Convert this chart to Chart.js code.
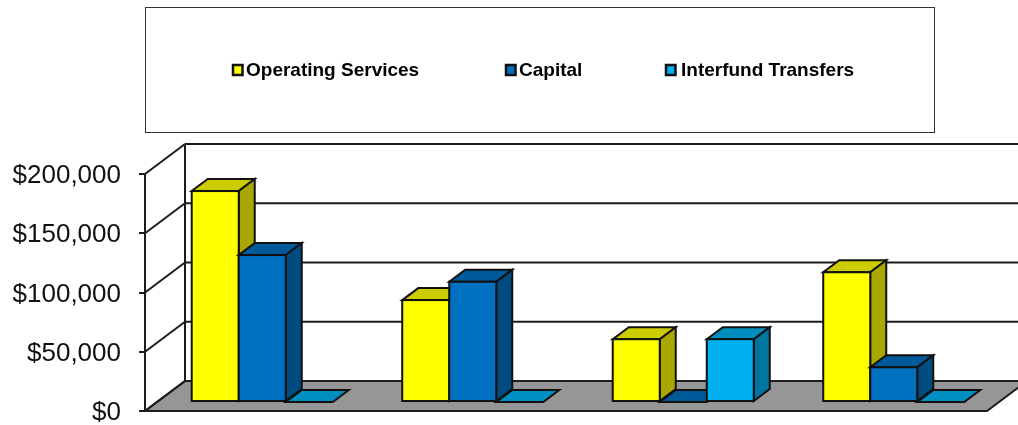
<!DOCTYPE html>
<html>
<head>
<meta charset="utf-8">
<title>Expenditures</title>
<script src="https://cdn.jsdelivr.net/npm/chart.js@4/dist/chart.umd.min.js"></script>
<style>
  html, body { margin: 0; padding: 0; background: #fff; }
  canvas { display: block; }
</style>
</head>
<body>
<canvas id="myChart" width="1018" height="425"></canvas>
<script>
const categories = ['1', '2', '3', '4'];
const operatingServices = [178000, 86000, 53000, 109500];
const capital = [124000, 101500, 0, 29300];
const interfundTransfers = [0, 0, 53000, 0];
const yTicks = [0, 50000, 100000, 150000, 200000];

const LINE = '#1c1c1c';
// floor depth of the 3D box, and how far the bars sit in from the front edge
const DEPTH_X = 40, DEPTH_Y = 30;
const BAR_DEPTH_X = 16, BAR_DEPTH_Y = 12;
const BAR_SHIFT_X = 12, BAR_SHIFT_Y = 9;

const shape = (ctx, pts, fill) => {
  ctx.beginPath();
  pts.forEach((p, i) => i ? ctx.lineTo(p[0], p[1]) : ctx.moveTo(p[0], p[1]));
  ctx.closePath();
  if (fill) {
    ctx.fillStyle = fill;
    ctx.fill();
  }
  ctx.stroke();
};

const line = (ctx, x1, y1, x2, y2) => {
  ctx.beginPath();
  ctx.moveTo(x1, y1);
  ctx.lineTo(x2, y2);
  ctx.stroke();
};

const box3d = {
  id: 'box3d',
  afterLayout(chart) {
    // nudge the tick labels down a little, canvas middle baseline sits too high
    const y = chart.scales.y;
    const getItems = y.getLabelItems.bind(y);
    y.getLabelItems = area => {
      const items = getItems(area);
      items.forEach(item => { item.options.translation[1] = item.options.translation[1] + 2; });
      return items;
    };
  },
  beforeDatasetsDraw(chart) {
    const { ctx, chartArea: area, scales: { y } } = chart;
    ctx.save();
    ctx.strokeStyle = LINE;
    ctx.lineWidth = 2;
    ctx.lineJoin = 'miter';

    // floor
    shape(ctx, [
      [area.left, area.bottom],
      [area.right, area.bottom],
      [area.right + DEPTH_X, area.bottom - DEPTH_Y],
      [area.left + DEPTH_X, area.bottom - DEPTH_Y]
    ], '#969696');

    // side wall and back wall lines for each tick
    y.ticks.forEach(t => {
      const py = y.getPixelForValue(t.value);
      line(ctx, area.left, py, area.left + DEPTH_X, py - DEPTH_Y);
      line(ctx, area.left + DEPTH_X, py - DEPTH_Y, area.right + DEPTH_X, py - DEPTH_Y);
    });
    line(ctx, area.left + DEPTH_X, area.top - DEPTH_Y, area.left + DEPTH_X, area.bottom - DEPTH_Y);

    // bars go left to right so each one covers the side face of the one before it
    ctx.translate(BAR_SHIFT_X, -BAR_SHIFT_Y);
    categories.forEach((c, i) => {
      chart.data.datasets.forEach((ds, d) => {
        const bar = chart.getDatasetMeta(d).data[i];
        const left = bar.x - bar.width / 2, right = bar.x + bar.width / 2;
        const top = bar.y, base = bar.base;
        ctx.strokeStyle = '#111';
        shape(ctx, [
          [left, top],
          [right, top],
          [right + BAR_DEPTH_X, top - BAR_DEPTH_Y],
          [left + BAR_DEPTH_X, top - BAR_DEPTH_Y]
        ], ds.topColor);
        if (base > top) {
          shape(ctx, [
            [right, top],
            [right + BAR_DEPTH_X, top - BAR_DEPTH_Y],
            [right + BAR_DEPTH_X, base - BAR_DEPTH_Y],
            [right, base]
          ], ds.sideColor);
          bar.draw(ctx);
          // outline sits on the bar's edge, the built-in border is drawn inside it
          ctx.strokeRect(left, top, right - left, base - top);
        }
      });
    });
    ctx.restore();
    return false;
  },
  afterDraw(chart) {
    const { ctx } = chart;
    ctx.save();
    // legend box
    ctx.strokeStyle = '#333';
    ctx.lineWidth = 1;
    ctx.strokeRect(145.5, 7.5, 789, 125);

    const itemX = [233, 506, 666];
    const textX = [246, 519, 681];
    ctx.font = 'bold 19px "Liberation Sans", Arial, sans-serif';
    ctx.textBaseline = 'middle';
    chart.data.datasets.forEach((ds, i) => {
      ctx.fillStyle = ds.backgroundColor;
      ctx.strokeStyle = '#111';
      ctx.lineWidth = 2.5;
      ctx.fillRect(itemX[i], 65, 9.5, 10);
      ctx.strokeRect(itemX[i], 65, 9.5, 10);
      ctx.fillStyle = '#000';
      ctx.fillText(ds.label, textX[i], 71);
    });
    ctx.restore();
  }
};

new Chart(document.getElementById('myChart'), {
  type: 'bar',
  data: {
    labels: categories,
    datasets: [
      { label: 'Operating Services', data: operatingServices, backgroundColor: '#FFFF00', topColor: '#CCCC00', sideColor: '#A8A800' },
      { label: 'Capital', data: capital, backgroundColor: '#0070C0', topColor: '#005A9A', sideColor: '#004B80' },
      { label: 'Interfund Transfers', data: interfundTransfers, backgroundColor: '#00B0F0', topColor: '#008DC0', sideColor: '#0075A0' }
    ].map(ds => ({ ...ds, borderWidth: 0, categoryPercentage: 0.67, barPercentage: 1 }))
  },
  options: {
    responsive: false,
    animation: false,
    layout: { padding: { top: 174, right: 31, bottom: 14, left: 0 } },
    plugins: { legend: { display: false }, tooltip: { enabled: false } },
    scales: {
      x: { display: false },
      y: {
        min: 0,
        max: 200000,
        // tick padding would otherwise push the axis up from the bottom edge
        afterFit: scale => {
          scale.width = 145;
          scale.paddingTop = 0;
          scale.paddingBottom = 0;
        },
        afterBuildTicks: scale => { scale.ticks = yTicks.map(value => ({ value })); },
        border: { display: true, color: LINE, width: 2 },
        grid: { drawOnChartArea: false, drawTicks: true, tickLength: 6, color: LINE, lineWidth: 2 },
        ticks: {
          padding: 18,
          color: '#111',
          font: { family: '"Liberation Sans", Arial, sans-serif', size: 26 },
          callback: v => '$' + v.toLocaleString('en-US')
        }
      }
    }
  },
  plugins: [box3d]
});
</script>
</body>
</html>
